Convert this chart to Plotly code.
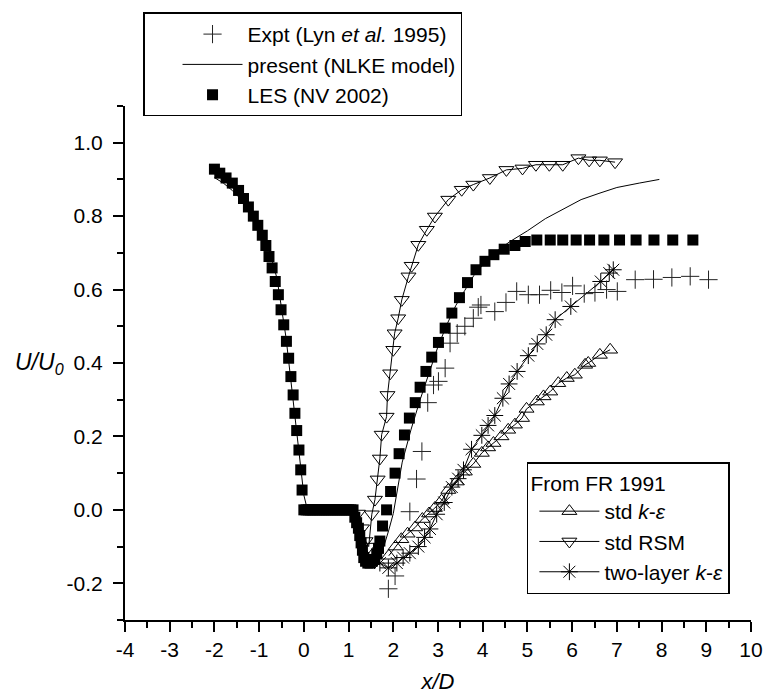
import plotly.graph_objects as go

# ---------------- data ----------------
# Experiment (Lyn et al. 1995)
expt_x = [1.89, 2.04, 2.37, 2.52, 2.64, 2.77, 2.90, 3.01, 3.16, 3.27, 3.43, 3.60, 3.79, 3.90, 3.96,
          4.27, 4.52, 4.76, 5.02, 5.27, 5.52, 5.77, 6.01, 6.27, 6.51, 6.77, 7.01, 7.41, 7.82, 8.23,
          8.64, 9.05]
expt_y = [-0.215, -0.18, -0.005, 0.084, 0.159, 0.292, 0.34, 0.35, 0.386, 0.454, 0.481, 0.50, 0.522,
          0.552, 0.558, 0.54, 0.565, 0.595, 0.586, 0.586, 0.598, 0.592, 0.61, 0.589, 0.592, 0.60,
          0.595, 0.627, 0.628, 0.633, 0.636, 0.627]

# present (NLKE model)
nlke_x = [-2.0, -1.8, -1.6, -1.4, -1.2, -1.0, -0.8, -0.6, -0.4, -0.2, -0.1, 0.0, 0.08, 0.5, 1.0,
          1.1, 1.2, 1.3, 1.4, 1.5, 1.6, 1.7, 1.8, 1.9, 2.0, 2.2, 2.4, 2.6, 2.8, 3.0, 3.2, 3.4,
          3.6, 3.8, 4.0, 4.3, 4.6, 5.0, 5.4, 5.8, 6.2, 6.6, 7.0, 7.5, 7.95]
nlke_y = [0.905, 0.89, 0.87, 0.845, 0.815, 0.775, 0.72, 0.63, 0.47, 0.25, 0.14, 0.04, 0.0, 0.0, 0.0,
          -0.01, -0.04, -0.09, -0.12, -0.13, -0.13, -0.125, -0.095, -0.055, -0.01, 0.13, 0.22,
          0.30, 0.375, 0.445, 0.505, 0.557, 0.598, 0.638, 0.667, 0.703, 0.73, 0.76, 0.793, 0.818,
          0.845, 0.862, 0.878, 0.89, 0.90]

# LES (NV 2002)
les_x = [-2.00, -1.88, -1.74, -1.60, -1.46, -1.35, -1.24, -1.13, -1.03, -0.93, -0.85, -0.78, -0.71,
         -0.64, -0.57, -0.51, -0.45, -0.39, -0.34, -0.29, -0.24, -0.20, -0.16, -0.11, -0.07, -0.04,
         0.00, 0.05, 0.10, 0.15, 0.20, 0.25, 0.30, 0.35, 0.40, 0.45, 0.50, 0.55, 0.60, 0.65, 0.70,
         0.75, 0.80, 0.85, 0.90, 0.95, 1.00, 1.05, 1.10, 1.14, 1.18, 1.22, 1.25, 1.28, 1.31, 1.34,
         1.38, 1.43, 1.48, 1.53, 1.58, 1.63, 1.67, 1.70, 1.76, 1.85, 1.94, 2.04, 2.13, 2.25, 2.36,
         2.49, 2.60, 2.73, 2.86, 3.01, 3.16, 3.31, 3.48, 3.66, 3.85, 4.05, 4.25, 4.48, 4.72, 4.95,
         5.21, 5.51, 5.79, 6.09, 6.39, 6.71, 7.06, 7.43, 7.83, 8.25, 8.70]
les_y = [0.928, 0.917, 0.904, 0.89, 0.87, 0.848, 0.825, 0.80, 0.775, 0.748, 0.72, 0.69, 0.659,
         0.622, 0.586, 0.545, 0.504, 0.459, 0.413, 0.363, 0.313, 0.263, 0.216, 0.163, 0.109, 0.054,
         0.0, 0.0, 0.0, 0.0, 0.0, 0.0, 0.0, 0.0, 0.0, 0.0, 0.0, 0.0, 0.0, 0.0, 0.0,
         0.0, 0.0, 0.0, 0.0, 0.0, 0.0, 0.0, 0.0, -0.02, -0.035, -0.05, -0.07, -0.09, -0.11, -0.13,
         -0.14, -0.145, -0.145, -0.14, -0.135, -0.12, -0.105, -0.085, -0.044, 0.0, 0.05, 0.10, 0.153,
         0.204, 0.25, 0.292, 0.334, 0.377, 0.416, 0.456, 0.495, 0.536, 0.578, 0.619, 0.654, 0.677,
         0.695, 0.71, 0.72, 0.731, 0.735, 0.735, 0.735, 0.735, 0.735, 0.735, 0.735, 0.735, 0.735,
         0.735, 0.735]

# From FR 1991: std k-epsilon
ke_x = [1.90, 2.05, 2.18, 2.32, 2.49, 2.65, 2.80, 2.93, 3.08, 3.23, 3.42, 3.60, 3.79, 3.98, 4.12,
        4.24, 4.42, 4.57, 4.72, 4.88, 4.98, 5.21, 5.36, 5.51, 5.69, 5.88, 6.06, 6.29, 6.36, 6.62,
        6.85]
ke_y = [-0.125, -0.10, -0.08, -0.065, -0.048, -0.025, -0.01, 0.005, 0.025, 0.054, 0.077, 0.104,
        0.125, 0.155, 0.17, 0.182, 0.20, 0.218, 0.232, 0.25, 0.275, 0.295, 0.309, 0.322, 0.345,
        0.359, 0.368, 0.395, 0.40, 0.422, 0.436]

# From FR 1991: std RSM
rsm_x = [1.21, 1.30, 1.38, 1.45, 1.52, 1.59, 1.65, 1.70, 1.74, 1.85, 1.87, 1.93, 2.00, 2.03, 2.11,
         2.19, 2.34, 2.41, 2.56, 2.75, 2.93, 3.23, 3.53, 3.79, 4.16, 4.53, 4.89, 5.19, 5.49, 5.79,
         6.14, 6.38, 6.62, 6.96]
rsm_y = [-0.01, -0.05, -0.085, -0.10, -0.012, 0.028, 0.083, 0.14, 0.205, 0.254, 0.313, 0.372,
         0.436, 0.481, 0.522, 0.572, 0.636, 0.665, 0.722, 0.763, 0.799, 0.845, 0.872, 0.886, 0.904,
         0.926, 0.93, 0.94, 0.94, 0.94, 0.958, 0.952, 0.952, 0.947]

# From FR 1991: two-layer k-epsilon
tl_x = [1.70, 1.89, 2.08, 2.22, 2.37, 2.56, 2.70, 2.82, 2.97, 3.14, 3.31, 3.45, 3.57, 3.75, 3.98,
        4.12, 4.27, 4.45, 4.59, 4.77, 5.02, 5.22, 5.42, 5.62, 5.97, 6.64, 6.83, 6.92]
tl_y = [-0.145, -0.158, -0.145, -0.13, -0.118, -0.10, -0.075, -0.052, -0.012, 0.02, 0.062, 0.085,
        0.109, 0.165, 0.203, 0.23, 0.257, 0.304, 0.343, 0.377, 0.42, 0.452, 0.477, 0.518, 0.554,
        0.622, 0.645, 0.654]

x_tick_vals = [-4, -3, -2, -1, 0, 1, 2, 3, 4, 5, 6, 7, 8, 9, 10]
x_tick_text = ['-4', '-3', '-2', '-1', '0', '1', '2', '3', '4', '5', '6', '7', '8', '9', '10']
x_minor_vals = [-3.5, -2.5, -1.5, -0.5, 0.5, 1.5, 2.5, 3.5, 4.5, 5.5, 6.5, 7.5, 8.5, 9.5]
y_tick_vals = [-0.2, 0.0, 0.2, 0.4, 0.6, 0.8, 1.0]
y_tick_text = ['-0.2', '0.0', '0.2', '0.4', '0.6', '0.8', '1.0']
y_minor_vals = [-0.3, -0.1, 0.1, 0.3, 0.5, 0.7, 0.9, 1.1]

# ---------------- figure ----------------
FONT = "Liberation Sans, Arial, Helvetica, sans-serif"
FS = 21

fig = go.Figure()

fig.add_trace(go.Scatter(
    x=ke_x, y=ke_y, mode="lines+markers", name="std <i>k</i>-<i>ε</i>",
    line=dict(color="black", width=1),
    marker=dict(symbol="triangle-up-open", size=13, color="black", line=dict(width=1, color="black")),
    legend="legend2", legendrank=1))

fig.add_trace(go.Scatter(
    x=rsm_x, y=rsm_y, mode="lines+markers", name="std RSM",
    line=dict(color="black", width=1),
    marker=dict(symbol="triangle-down-open", size=13, color="black", line=dict(width=1, color="black")),
    legend="legend2", legendrank=2))

fig.add_trace(go.Scatter(
    x=tl_x, y=tl_y, mode="lines+markers", name="two-layer <i>k</i>-<i>ε</i>",
    line=dict(color="black", width=1),
    marker=dict(symbol="asterisk-open", size=14, color="black", line=dict(width=1, color="black")),
    legend="legend2", legendrank=3))

fig.add_trace(go.Scatter(
    x=expt_x, y=expt_y, mode="markers", name="Expt (Lyn <i>et al.</i> 1995)",
    marker=dict(symbol="cross-thin-open", size=13, color="#222", line=dict(width=1, color="#222")),
    legend="legend", legendrank=1))

fig.add_trace(go.Scatter(
    x=les_x, y=les_y, mode="markers", name="LES (NV 2002)",
    marker=dict(symbol="square", size=11, color="black", line=dict(width=0)),
    legend="legend", legendrank=3))

fig.add_trace(go.Scatter(
    x=nlke_x, y=nlke_y, mode="lines", name="present (NLKE model)",
    line=dict(color="black", width=1),
    legend="legend", legendrank=2))

axis_common = dict(
    showline=True, linecolor="black", linewidth=2, mirror=False,
    ticks="outside", ticklen=10, tickwidth=1.5, tickcolor="black",
    showgrid=False, zeroline=False,
    tickfont=dict(family=FONT, size=FS, color="black"),
)

fig.update_xaxes(
    range=[-4, 10], tickmode="array", tickvals=x_tick_vals, ticktext=x_tick_text,
    minor=dict(tickmode="array", tickvals=x_minor_vals, ticks="outside", ticklen=6,
               tickwidth=1.5, tickcolor="black", showgrid=False),
    title=dict(text="<i>x/D</i>", font=dict(family=FONT, size=22, color="black"), standoff=14),
    **axis_common)

fig.update_yaxes(
    range=[-0.3, 1.1], tickmode="array", tickvals=y_tick_vals, ticktext=y_tick_text,
    minor=dict(tickmode="array", tickvals=y_minor_vals, ticks="outside", ticklen=6,
               tickwidth=1.5, tickcolor="black", showgrid=False),
    ticklabelstandoff=6,
    **axis_common)

fig.add_annotation(
    text="<i>U/U<sub>0</sub></i>", xref="paper", yref="paper", x=-0.136, y=0.5,
    xanchor="center", yanchor="middle", showarrow=False,
    font=dict(family=FONT, size=23, color="black"))

fig.update_layout(
    width=765, height=694, autosize=False,
    margin=dict(l=125, r=14, t=106, b=74, pad=0, autoexpand=False),
    plot_bgcolor="white", paper_bgcolor="white",
    font=dict(family=FONT, size=FS, color="black"),
    showlegend=True,
    legend=dict(
        x=0.0288, y=1.182, xanchor="left", yanchor="top",
        bgcolor="white", bordercolor="black", borderwidth=1.5,
        font=dict(family=FONT, size=FS, color="black"),
        indentation=33, itemwidth=60, tracegroupgap=0),
    legend2=dict(
        x=0.642, y=0.307, xanchor="left", yanchor="top",
        bgcolor="white", bordercolor="black", borderwidth=1.5,
        font=dict(family=FONT, size=FS, color="black"),
        title=dict(text="From FR 1991", font=dict(family=FONT, size=FS, color="black")),
        indentation=6, itemwidth=60, tracegroupgap=0),
)

fig.write_html("out.html", config={"displayModeBar": False},
               post_script="document.body.style.margin='0px';")
